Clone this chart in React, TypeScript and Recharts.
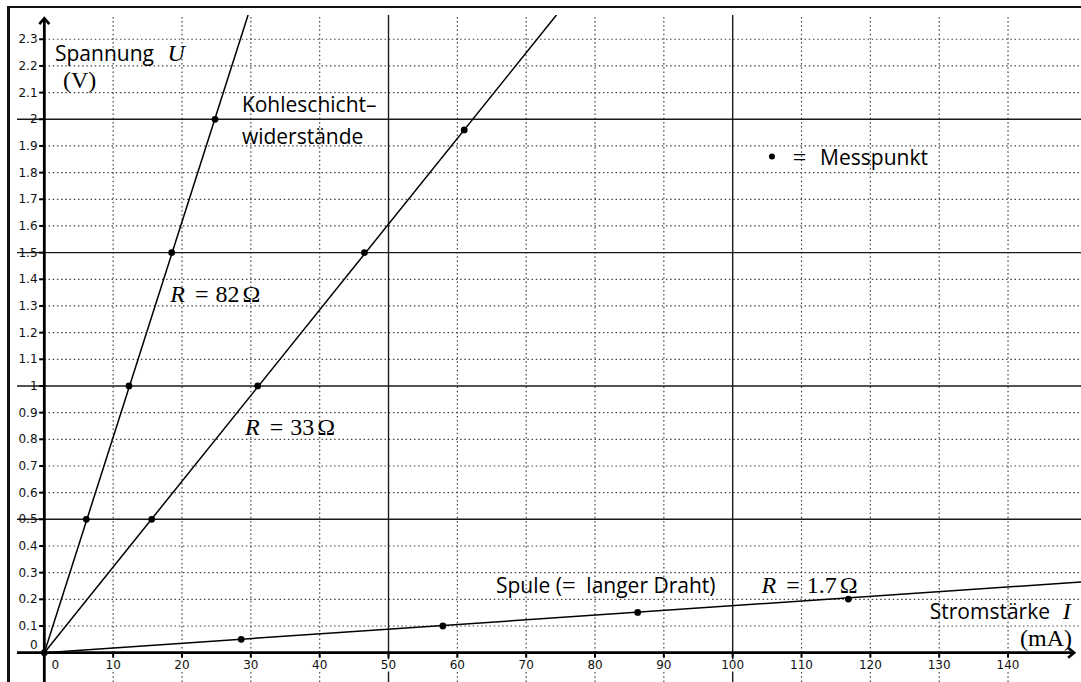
import React from "react";
import {
    ComposedChart,
    Line,
    Scatter,
    XAxis,
    YAxis,
    ReferenceLine,
    ReferenceDot
} from "recharts";

// measured points (I in mA, U in V)
const current82 = [6.1, 12.3, 18.5, 24.8];
const voltage82 = [0.5, 1.0, 1.5, 2.0];

const current33 = [15.6, 31.0, 46.5, 61.0];
const voltage33 = [0.5, 1.0, 1.5, 1.96];

const currentCoil = [28.6, 57.9, 86.2, 116.8];
const voltageCoil = [0.05, 0.1, 0.151, 0.201];

// fitted lines, start and end point
const fit82 = [{ x: 0, y: 0 }, { x: 29.6, y: 2.391 }];
const fit33 = [{ x: 0, y: 0 }, { x: 74.4, y: 2.391 }];
const fitCoil = [{ x: 0, y: 0 }, { x: 150.6, y: 0.265 }];

const xTicks = [10, 20, 30, 40, 50, 60, 70, 80, 90, 100, 110, 120, 130, 140];
const yTicks = [
    0.1, 0.2, 0.3, 0.4, 0.5, 0.6, 0.7, 0.8, 0.9, 1, 1.1, 1.2,
    1.3, 1.4, 1.5, 1.6, 1.7, 1.8, 1.9, 2, 2.1, 2.2, 2.3
];
const xMajor = [50, 100];
const yMajor = [0.5, 1, 1.5, 2];

const X_MIN = -3.97;
const X_MAX = 150.6;
const Y_MIN = -0.11;
const Y_MAX = 2.391;

const SANS = "'Open Sans', sans-serif";
const SERIF = "'Liberation Serif', serif";
const TICK_FONT = "'DejaVu Sans', sans-serif";

const toPoints = (xs: number[], ys: number[]) =>
    xs.map((x, i) => ({ x, y: ys[i] }));

type Part = { t: string; serif?: boolean; italic?: boolean; dx?: number };
type Note = { x: number; y: number; anchor?: "start" | "middle" | "end"; parts: Part[] };

const ohm = (value: string): Part[] => [
    { t: "R", serif: true, italic: true },
    { t: "=", serif: true, dx: 10 },
    { t: value, serif: true, dx: 7 },
    { t: "Ω", serif: true, dx: 3 }
];

const notes: Note[] = [
    { x: 1.55, y: 2.218, parts: [{ t: "Spannung" }] },
    { x: 17.9, y: 2.218, parts: [{ t: "U", serif: true, italic: true }] },
    { x: 2.7, y: 2.116, parts: [{ t: "(V)", serif: true }] },
    { x: 28.7, y: 2.029, parts: [{ t: "Kohleschicht–" }] },
    { x: 28.7, y: 1.907, parts: [{ t: "widerstände" }] },
    { x: 18.3, y: 1.315, parts: ohm("82") },
    { x: 29.15, y: 0.816, parts: ohm("33") },
    { x: 109.7, y: 1.829, anchor: "middle", parts: [{ t: "=", serif: true }] },
    { x: 112.7, y: 1.829, parts: [{ t: "Messpunkt" }] },
    {
        x: 65.6, y: 0.223, parts: [
            { t: "Spule (" },
            { t: "=", serif: true },
            { t: "  langer Draht)" }
        ]
    },
    { x: 104.2, y: 0.224, parts: ohm("1.7") },
    { x: 146.1, y: 0.125, anchor: "end", parts: [{ t: "Stromstärke" }] },
    { x: 149.1, y: 0.125, anchor: "end", parts: [{ t: "I", serif: true, italic: true }] },
    { x: 149.3, y: 0.025, anchor: "end", parts: [{ t: "(mA)", serif: true }] }
];

// legend bullet position
const legendDot = { x: 105.7, y: 1.86 };

const dot = (p: any) => (
    <circle cx={p.cx} cy={p.cy} r={3.4} fill="#000" />
);

export default function App() {

    return (

        <div
            style={{
                position: "absolute",
                left: 0,
                top: 0,
                width: 1081,
                height: 682,
                background: "#fff"
            }}
        >

            <div
                style={{
                    position: "absolute",
                    left: 7,
                    top: 6,
                    width: 1074,
                    height: 676,
                    borderLeft: "3.5px solid #111",
                    borderTop: "2.5px solid #111",
                    boxSizing: "border-box",
                    pointerEvents: "none"
                }}
            />

            <ComposedChart
                width={1081}
                height={682}
                margin={{ top: 15, left: 17, right: 0, bottom: 0 }}
            >

                <XAxis
                    type="number"
                    dataKey="x"
                    domain={[X_MIN, X_MAX]}
                    allowDataOverflow
                    hide
                />

                <YAxis
                    type="number"
                    dataKey="y"
                    domain={[Y_MIN, Y_MAX]}
                    allowDataOverflow
                    hide
                />

                {/* dotted grid */}
                {xTicks.filter(v => !xMajor.includes(v)).map(v => (
                    <ReferenceLine
                        key={`gx${v}`}
                        segment={[{ x: v, y: Y_MIN }, { x: v, y: Y_MAX }]}
                        stroke="#444"
                        strokeWidth={1.2}
                        strokeDasharray="1.5 2.7"
                        ifOverflow="visible"
                    />
                ))}
                {yTicks.filter(v => !yMajor.includes(v)).map(v => (
                    <ReferenceLine
                        key={`gy${v}`}
                        segment={[{ x: 0, y: v }, { x: X_MAX, y: v }]}
                        stroke="#444"
                        strokeWidth={1.2}
                        strokeDasharray="1.5 2.7"
                        ifOverflow="visible"
                    />
                ))}

                {/* tick labels */}
                {xTicks.map(v => (
                    <ReferenceDot
                        key={`lx${v}`}
                        x={v}
                        y={-0.048}
                        ifOverflow="visible"
                        shape={(p: any) => (
                            <g>
                                <rect
                                    x={p.cx - 11}
                                    y={p.cy - 6}
                                    width={22}
                                    height={12}
                                    fill="#fff"
                                />
                                <text
                                    x={p.cx}
                                    y={p.cy}
                                    textAnchor="middle"
                                    dominantBaseline="central"
                                    fontFamily={TICK_FONT}
                                    fontSize={12}
                                    fill="#111"
                                >
                                    {v}
                                </text>
                            </g>
                        )}
                    />
                ))}
                <ReferenceDot
                    x={1.6}
                    y={-0.048}
                    ifOverflow="visible"
                    shape={(p: any) => (
                        <text
                            x={p.cx}
                            y={p.cy}
                            textAnchor="middle"
                            dominantBaseline="central"
                            fontFamily={TICK_FONT}
                            fontSize={12}
                            fill="#111"
                        >
                            0
                        </text>
                    )}
                />
                {[0, ...yTicks].map(v => (
                    <ReferenceDot
                        key={`ly${v}`}
                        x={-0.98}
                        y={v === 0 ? 0.029 : v}
                        ifOverflow="visible"
                        shape={(p: any) => (
                            <text
                                x={p.cx}
                                y={p.cy}
                                textAnchor="end"
                                dominantBaseline="central"
                                fontFamily={TICK_FONT}
                                fontSize={12}
                                fill="#111"
                            >
                                {v}
                            </text>
                        )}
                    />
                ))}

                {/* solid grid lines */}
                {xMajor.map(v => (
                    <ReferenceLine
                        key={`mx${v}`}
                        segment={[{ x: v, y: Y_MIN }, { x: v, y: Y_MAX }]}
                        stroke="#1a1a1a"
                        strokeWidth={1.4}
                        ifOverflow="visible"
                    />
                ))}
                {yMajor.map(v => (
                    <ReferenceLine
                        key={`my${v}`}
                        segment={[{ x: X_MIN, y: v }, { x: X_MAX, y: v }]}
                        stroke="#1a1a1a"
                        strokeWidth={1.4}
                        ifOverflow="visible"
                    />
                ))}

                {/* tick marks */}
                {yTicks.map(v => (
                    <ReferenceLine
                        key={`ty${v}`}
                        segment={[{ x: -0.75, y: v }, { x: 0, y: v }]}
                        stroke="#000"
                        strokeWidth={2}
                        ifOverflow="visible"
                    />
                ))}
                {xTicks.map(v => (
                    <ReferenceLine
                        key={`tx${v}`}
                        segment={[{ x: v, y: 0 }, { x: v, y: -0.019 }]}
                        stroke="#000"
                        strokeWidth={2}
                        ifOverflow="visible"
                    />
                ))}

                {/* axes */}
                <ReferenceLine
                    segment={[{ x: X_MIN, y: 0 }, { x: 149.6, y: 0 }]}
                    stroke="#000"
                    strokeWidth={2.8}
                    ifOverflow="visible"
                />
                <ReferenceLine
                    segment={[{ x: 0, y: Y_MIN }, { x: 0, y: 2.379 }]}
                    stroke="#000"
                    strokeWidth={2.8}
                    ifOverflow="visible"
                />
                <ReferenceDot
                    x={149.6}
                    y={0}
                    ifOverflow="visible"
                    shape={(p: any) => (
                        <path
                            d={`M${p.cx - 6},${p.cy - 5} L${p.cx},${p.cy} L${p.cx - 6},${p.cy + 5}`}
                            fill="none"
                            stroke="#000"
                            strokeWidth={2.6}
                        />
                    )}
                />
                <ReferenceDot
                    x={0}
                    y={2.379}
                    ifOverflow="visible"
                    shape={(p: any) => (
                        <path
                            d={`M${p.cx - 5},${p.cy + 6} L${p.cx},${p.cy} L${p.cx + 5},${p.cy + 6}`}
                            fill="none"
                            stroke="#000"
                            strokeWidth={2.6}
                        />
                    )}
                />

                {/* fitted lines */}
                <Line
                    data={fit82}
                    dataKey="y"
                    type="linear"
                    stroke="#000"
                    strokeWidth={1.5}
                    dot={false}
                    isAnimationActive={false}
                />
                <Line
                    data={fit33}
                    dataKey="y"
                    type="linear"
                    stroke="#000"
                    strokeWidth={1.5}
                    dot={false}
                    isAnimationActive={false}
                />
                <Line
                    data={fitCoil}
                    dataKey="y"
                    type="linear"
                    stroke="#000"
                    strokeWidth={1.5}
                    dot={false}
                    isAnimationActive={false}
                />

                {/* measured points */}
                <Scatter
                    data={toPoints(current82, voltage82)}
                    shape={dot}
                    isAnimationActive={false}
                />
                <Scatter
                    data={toPoints(current33, voltage33)}
                    shape={dot}
                    isAnimationActive={false}
                />
                <Scatter
                    data={toPoints(currentCoil, voltageCoil)}
                    shape={dot}
                    isAnimationActive={false}
                />
                <ReferenceDot
                    x={0}
                    y={0}
                    ifOverflow="visible"
                    shape={dot}
                />
                <ReferenceDot
                    x={legendDot.x}
                    y={legendDot.y}
                    ifOverflow="visible"
                    shape={(p: any) => (
                        <circle cx={p.cx} cy={p.cy} r={3} fill="#000" />
                    )}
                />

                {/* annotations */}
                {notes.map((n, i) => (
                    <ReferenceDot
                        key={`n${i}`}
                        x={n.x}
                        y={n.y}
                        ifOverflow="visible"
                        shape={(p: any) => (
                            <text
                                x={p.cx}
                                y={p.cy}
                                textAnchor={n.anchor || "start"}
                                fontSize={21}
                                fill="#000"
                                fontFamily={SANS}
                            >
                                {n.parts.map((part, j) => (
                                    <tspan
                                        key={j}
                                        dx={part.dx}
                                        fontFamily={part.serif ? SERIF : SANS}
                                        fontStyle={part.italic ? "italic" : "normal"}
                                        fontSize={part.serif ? 24 : 21}
                                        style={{ whiteSpace: "pre" }}
                                    >
                                        {part.t}
                                    </tspan>
                                ))}
                            </text>
                        )}
                    />
                ))}

            </ComposedChart>

        </div>

    );
}
